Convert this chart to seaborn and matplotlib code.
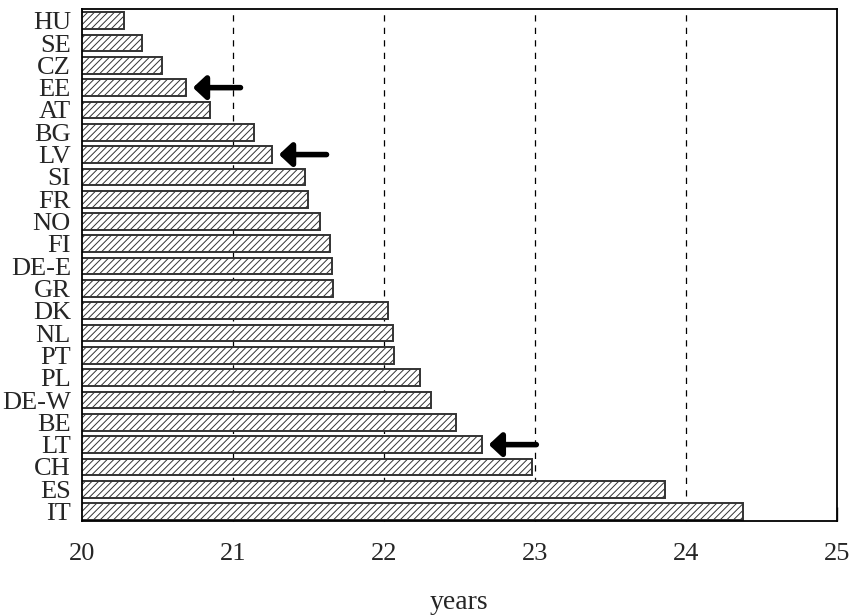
import numpy as np
import pandas as pd
import seaborn as sns
from matplotlib import pyplot as plt

countries = ['HU', 'SE', 'CZ', 'EE', 'AT', 'BG', 'LV', 'SI', 'FR', 'NO', 'FI', 'DE-E',
             'GR', 'DK', 'NL', 'PT', 'PL', 'DE-W', 'BE', 'LT', 'CH', 'ES', 'IT']
years = [20.28, 20.40, 20.53, 20.69, 20.85, 21.14, 21.26, 21.48, 21.50, 21.58, 21.64, 21.655,
         21.66, 22.03, 22.06, 22.07, 22.24, 22.31, 22.48, 22.65, 22.98, 23.86, 24.38]
# countries marked with an arrow
marked = ['EE', 'LV', 'LT']
xticks = [20, 21, 22, 23, 24, 25]

df = pd.DataFrame({'country': countries, 'years': years})

sns.set_style('white')
plt.rcParams['font.family'] = 'Liberation Serif'
plt.rcParams['hatch.color'] = '#3a3a3a'
plt.rcParams['hatch.linewidth'] = 0.7

fig = plt.figure(figsize=(8.55, 6.16), dpi=100)
ax = fig.add_axes([0.0959, 0.1547, 0.9786 - 0.0959, 0.9854 - 0.1547])

sns.barplot(data=df, x='years', y='country', orient='h', color='white',
            edgecolor='#333333', linewidth=1.4, width=0.75, ax=ax, zorder=2)
for p in ax.patches:
    p.set_hatch('/////')
    # seaborn draws bars from 0, keep the left edge at the axis
    p.set_x(0)

ax.set_xlim(20, 25)
ax.set_ylim(22.41, -0.525)
ax.set_xticks(xticks)
for x in xticks[1:-1]:
    ax.axvline(x, color='black', linestyle=(0, (5, 5)), linewidth=0.9, zorder=1)

ax.tick_params(axis='y', direction='in', length=10, width=1, pad=8, labelsize=19, left=True)
ax.tick_params(axis='x', direction='in', length=10, width=1, pad=16, labelsize=19, bottom=True)
ax.set_ylabel('')
ax.set_xlabel('years', fontsize=20, labelpad=18)

for s in ax.spines.values():
    s.set_color('black')
    s.set_linewidth(1.3)

for c in marked:
    i = countries.index(c)
    v = years[i]
    ax.annotate('', xy=(v + 0.045, i), xytext=(v + 0.36, i),
                arrowprops=dict(arrowstyle='-|>,head_length=0.75,head_width=0.7',
                                lw=4, color='black', capstyle='round',
                                shrinkA=0, shrinkB=0),
                zorder=5)

fig.savefig('out.png', dpi=100)
